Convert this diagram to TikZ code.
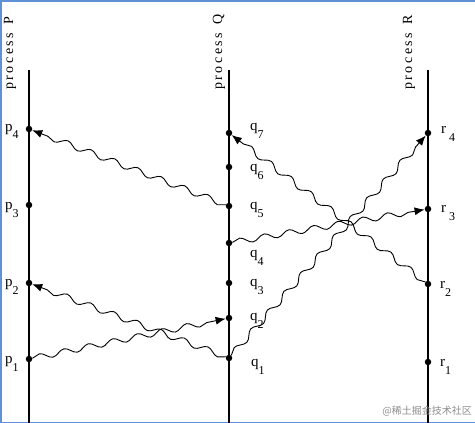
\documentclass[tikz,border=0pt]{standalone}
\usepackage{fontspec}
\setmainfont{Liberation Serif}
\newfontfamily\cjkwm{Noto Sans CJK SC}
\usetikzlibrary{decorations.pathmorphing,arrows.meta}
\newcommand\evl[2]{{\fontsize{15}{15}\selectfont #1}\raisebox{-8pt}{\fontsize{12}{12}\selectfont #2}}
\newcommand\proclab[1]{\fontsize{14}{14}\selectfont\addfontfeatures{LetterSpace=18}process\hspace{8.5pt}#1}
\begin{document}
\begin{tikzpicture}[x=1pt,y=-1pt,
  ev/.style={circle,fill=black,inner sep=0pt,minimum size=6.5pt},
  procline/.style={line width=1.4pt},
  msg/.style={line width=0.9pt,decorate,decoration={snake,amplitude=3pt,segment length=25pt,post length=9pt},-{Latex[length=10pt,width=8pt]}},
  lab/.style={anchor=base west,inner sep=0pt},
  plab/.style={anchor=base west,inner sep=0pt,rotate=90},
  frame/.style={draw={rgb,255:red,95;green,145;blue,215},line width=1.5pt}]
\useasboundingbox (0,0) rectangle (475,423);
% screenshot frame
\draw[frame] (475,0.75) -- (0.75,0.75) -- (0.75,422.25) -- (475,422.25);
% process lines
\coordinate (Ptop) at (29,70); \coordinate (Pbot) at (29,423);
\coordinate (Qtop) at (229,70); \coordinate (Qbot) at (229,423);
\coordinate (Rtop) at (428,70); \coordinate (Rbot) at (428,423);
\draw[procline] (Ptop) -- (Pbot);
\draw[procline] (Qtop) -- (Qbot);
\draw[procline] (Rtop) -- (Rbot);
% process labels
\node[plab] (lP) at (13,90) {\proclab{P}};
\node[plab] (lQ) at (222,90) {\proclab{Q}};
\node[plab] (lR) at (412,90) {\proclab{R}};
% events
\node[ev] (p4) at (29,129) {};
\node[ev] (p3) at (29,205) {};
\node[ev] (p2) at (29,283) {};
\node[ev] (p1) at (29,359) {};
\node[ev] (q7) at (229,133) {};
\node[ev] (q6) at (229,167) {};
\node[ev] (q5) at (229,206) {};
\node[ev] (q4) at (229,243) {};
\node[ev] (q3) at (229,283) {};
\node[ev] (q2) at (229,318) {};
\node[ev] (q1) at (229,358) {};
\node[ev] (r4) at (428,133) {};
\node[ev] (r3) at (428,209) {};
\node[ev] (r2) at (428,284) {};
\node[ev] (r1) at (428,362) {};
% event labels
\node[lab] (tp4) at (5,131) {\evl{p}{4}};
\node[lab] (tp3) at (5,209) {\evl{p}{3}};
\node[lab] (tp2) at (5,286) {\evl{p}{2}};
\node[lab] (tp1) at (5,363) {\evl{p}{1}};
\node[lab] (tq7) at (250,130) {\evl{q}{7}};
\node[lab] (tq6) at (250,171) {\evl{q}{6}};
\node[lab] (tq5) at (250,209) {\evl{q}{5}};
\node[lab] (tq4) at (250,257) {\evl{q}{4}};
\node[lab] (tq3) at (250,286) {\evl{q}{3}};
\node[lab] (tq2) at (250,320) {\evl{q}{2}};
\node[lab] (tq1) at (251,366) {\evl{q}{1}};
\node[lab] (tr4) at (441,133) {\evl{r\hspace{3pt}}{4}};
\node[lab] (tr3) at (441,212) {\evl{r\hspace{3pt}}{3}};
\node[lab] (tr2) at (440,288) {\evl{r}{2}};
\node[lab] (tr1) at (440,366) {\evl{r}{1}};
% messages
\draw[msg] (q5) -- (p4);
\draw[msg] (p1) -- (q2);
\draw[msg] (q1) -- (p2);
\draw[msg] (q1) -- (r4);
\draw[msg] (q4) -- (r3);
\draw[msg] (r2) -- (q7);
% watermark
\node[anchor=east,inner sep=0pt,text=black!45] (wm) at (472,411) {\cjkwm\fontsize{10}{10}\selectfont @稀土掘金技术社区};
\end{tikzpicture}
\end{document}
